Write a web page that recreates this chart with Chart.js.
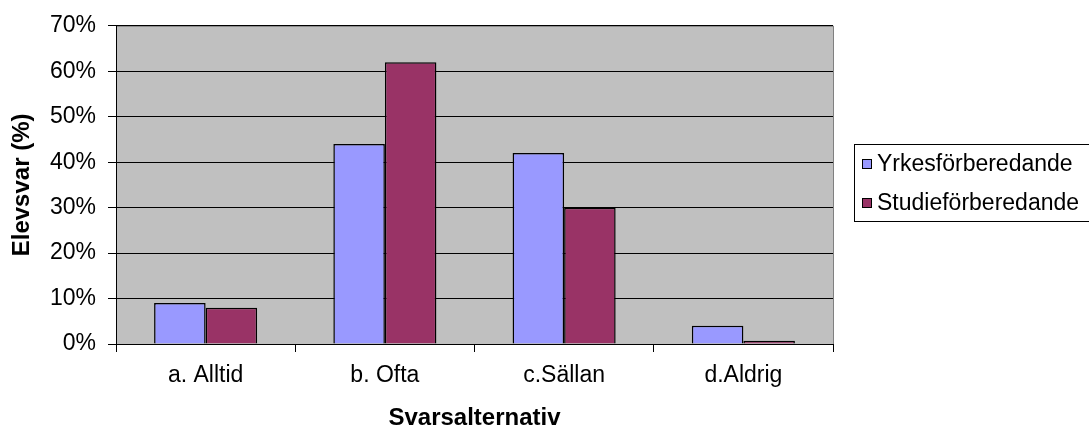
<!DOCTYPE html>
<html>
<head>
<meta charset="utf-8">
<script src="https://cdn.jsdelivr.net/npm/chart.js@4"></script>
<style>
  html, body { margin: 0; padding: 0; background: #fff; overflow: hidden; }
  #wrap { width: 1089px; height: 430px; }
</style>
</head>
<body>
<div id="wrap"><canvas id="chart" width="1089" height="430"></canvas></div>
<script>
const categories = ['a. Alltid', 'b. Ofta', 'c.Sällan', 'd.Aldrig'];
const seriesNames = ['Yrkesförberedande', 'Studieförberedande'];
const yrkes = [9, 44, 42, 4];
const studie = [8, 62, 30, 0.7];
const colors = ['#9999FF', '#993366'];

const FONT = 'Arial, "Liberation Sans", sans-serif';

// grey plot background with thin border
const plotBg = {
  id: 'plotBg',
  beforeDraw(chart) {
    const { ctx, chartArea: a } = chart;
    ctx.save();
    ctx.fillStyle = '#C0C0C0';
    ctx.fillRect(a.left, a.top, a.right - a.left, a.bottom - a.top);
    ctx.strokeStyle = '#808080';
    ctx.lineWidth = 1;
    ctx.strokeRect(a.left + 0.5, a.top + 0.5, a.right - a.left, a.bottom - a.top);
    ctx.restore();
  }
};

// boxed legend on the right, like the original
const boxLegend = {
  id: 'boxLegend',
  afterDraw(chart) {
    const { ctx } = chart;
    const x = 854, y = 144, w = 260, h = 77;
    ctx.save();
    ctx.fillStyle = '#fff';
    ctx.fillRect(x, y, w, h);
    ctx.strokeStyle = '#000';
    ctx.lineWidth = 1;
    ctx.strokeRect(x + 0.5, y + 0.5, w, h);
    ctx.font = '23px ' + FONT;
    ctx.textBaseline = 'middle';
    seriesNames.forEach((name, i) => {
      const cy = 164 + i * 39;
      ctx.fillStyle = colors[i];
      ctx.fillRect(862, cy - 5, 10, 10);
      ctx.strokeStyle = '#000';
      ctx.strokeRect(862.5, cy - 4.5, 9, 9);
      ctx.fillStyle = '#000';
      ctx.fillText(name, 877, cy + 1);
    });
    ctx.restore();
  }
};

new Chart(document.getElementById('chart'), {
  type: 'bar',
  data: {
    labels: categories,
    datasets: [
      { label: seriesNames[0], data: yrkes, backgroundColor: colors[0], borderColor: '#000', borderWidth: 1.5 },
      { label: seriesNames[1], data: studie, backgroundColor: colors[1], borderColor: '#000', borderWidth: 1.5 }
    ]
  },
  options: {
    responsive: false,
    animation: false,
    layout: { padding: { left: 0, right: 256, top: 23, bottom: 0 } },
    datasets: { bar: { categoryPercentage: 0.575, barPercentage: 1 } },
    scales: {
      x: {
        grid: { offset: true, drawOnChartArea: false, color: '#000', tickLength: 8 },
        border: { color: '#000' },
        ticks: { color: '#000', font: { family: FONT, size: 23 }, padding: 10 },
        title: { display: true, text: 'Svarsalternativ', color: '#000', font: { family: FONT, size: 24, weight: 'bold', lineHeight: 1 }, padding: { top: 0, bottom: 0 } },
        afterFit(scale) { scale.height = 86; }
      },
      y: {
        min: 0, max: 70,
        grid: { color: '#000', tickLength: 8 },
        border: { color: '#000' },
        ticks: { stepSize: 10, color: '#000', font: { family: FONT, size: 23 }, padding: 12, callback: v => v + '%' },
        title: { display: true, text: 'Elevsvar (%)', color: '#000', font: { family: FONT, size: 24, weight: 'bold', lineHeight: 1 }, padding: { top: 10, bottom: 0 } },
        afterFit(scale) { scale.width = 116; }
      }
    },
    plugins: {
      legend: { display: false },
      tooltip: { enabled: false }
    }
  },
  plugins: [plotBg, boxLegend]
});
</script>
</body>
</html>
